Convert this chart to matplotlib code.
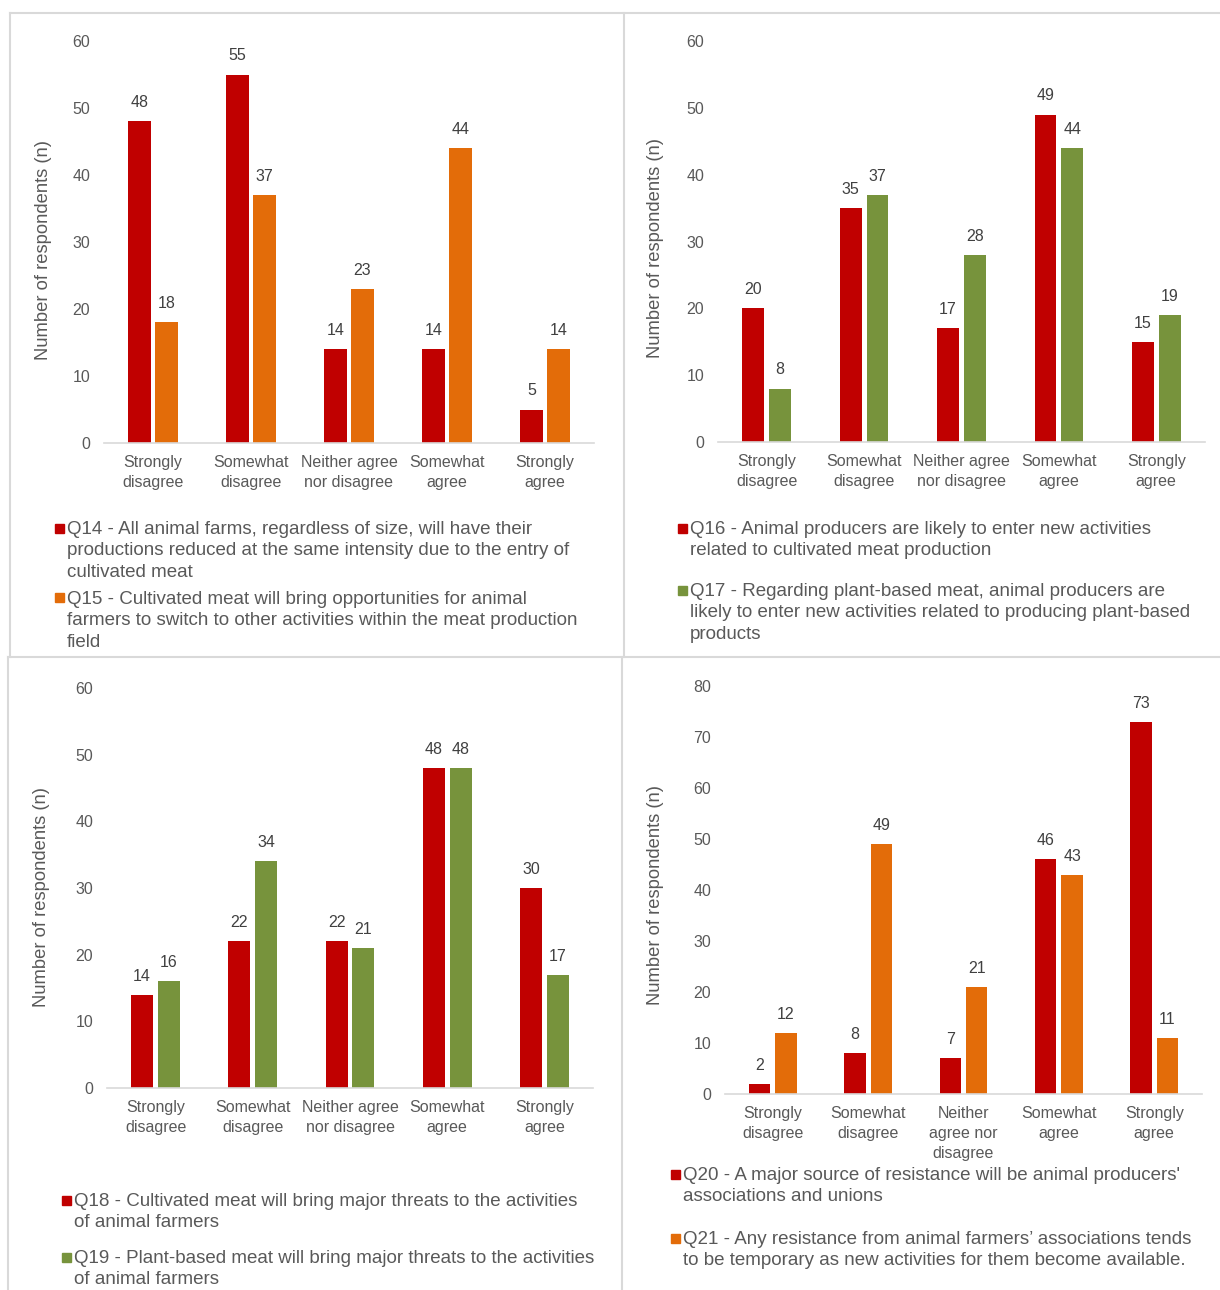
import matplotlib
matplotlib.use('Agg')
import matplotlib.pyplot as plt
from matplotlib.lines import Line2D
from matplotlib.patches import Rectangle
import numpy as np

plt.rcParams['font.family'] = ['Liberation Sans', 'DejaVu Sans']

# answer scale
cats = ['Strongly\ndisagree', 'Somewhat\ndisagree', 'Neither agree\nnor disagree',
        'Somewhat\nagree', 'Strongly\nagree']
cats_q20 = ['Strongly\ndisagree', 'Somewhat\ndisagree', 'Neither\nagree nor\ndisagree',
            'Somewhat\nagree', 'Strongly\nagree']

# number of respondents per question
q14 = [48, 55, 14, 14, 5]
q15 = [18, 37, 23, 44, 14]
q16 = [20, 35, 17, 49, 15]
q17 = [8, 37, 28, 44, 19]
q18 = [14, 22, 22, 48, 30]
q19 = [16, 34, 21, 48, 17]
q20 = [2, 8, 7, 46, 73]
q21 = [12, 49, 21, 43, 11]

lab14 = 'Q14 - All animal farms, regardless of size, will have their\nproductions reduced at the same intensity due to the entry of\ncultivated meat'
lab15 = 'Q15 - Cultivated meat will bring opportunities for animal\nfarmers to switch to other activities within the meat production\nfield'
lab16 = 'Q16 - Animal producers are likely to enter new activities\nrelated to cultivated meat production'
lab17 = 'Q17 - Regarding plant-based meat, animal producers are\nlikely to enter new activities related to producing plant-based\nproducts'
lab18 = 'Q18 - Cultivated meat will bring major threats to the activities\nof animal farmers'
lab19 = 'Q19 - Plant-based meat will bring major threats to the activities\nof animal farmers'
lab20 = "Q20 - A major source of resistance will be animal producers'\nassociations and unions"
lab21 = 'Q21 - Any resistance from animal farmers\u2019 associations tends\nto be temporary as new activities for them become available.'

RED = '#C00000'
ORANGE = '#E36C09'
GREEN = '#77933C'
GREY = '#595959'

W, H = 1220, 1290
fig = plt.figure(figsize=(W / 100, H / 100), dpi=100)


def fx(x):
    return x / W


def fy(y):
    return 1 - y / H


def panel(box, a, b, ca, cb, labels, ymax, ylab_xy):
    x0, y0, x1, y1 = box
    ax = fig.add_axes([fx(x0), fy(y1), (x1 - x0) / W, (y1 - y0) / H])
    x = np.arange(len(labels))
    w = 0.225
    off = 0.138
    ba = ax.bar(x - off, a, w, color=ca)
    bb = ax.bar(x + off, b, w, color=cb)
    for bars in (ba, bb):
        for r in bars:
            ax.annotate(f'{r.get_height():.0f}', (r.get_x() + r.get_width() / 2, r.get_height()),
                        xytext=(0, 8), textcoords='offset points', ha='center', va='bottom',
                        fontsize=11.5, color='#404040')
    ax.set_xlim(-0.5, len(labels) - 0.5)
    ax.set_ylim(0, ymax)
    ax.set_yticks(range(0, ymax + 1, 10))
    ax.set_xticks(x)
    ax.set_xticklabels(labels, linespacing=1.42)
    ax.tick_params(axis='both', length=0, labelsize=11.5, labelcolor=GREY)
    ax.tick_params(axis='x', pad=8.5)
    ax.tick_params(axis='y', pad=10)
    for s in ['top', 'right', 'left']:
        ax.spines[s].set_visible(False)
    ax.spines['bottom'].set_color('#D9D9D9')
    ax.spines['bottom'].set_linewidth(1.2)
    ax.set_facecolor('none')
    fig.text(fx(ylab_xy[0]), fy(ylab_xy[1]), 'Number of respondents (n)', rotation=90,
             ha='center', va='center', fontsize=13.2, color=GREY)
    return ax


def legend_entry(x, y, color, text):
    fig.patches.append(Rectangle((fx(x), fy(y + 4.5)), 9 / W, 9 / H, color=color,
                                 transform=fig.transFigure, figure=fig))
    for i, line in enumerate(text.split('\n')):
        fig.text(fx(x + 12), fy(y + 1.5 + i * 21.3), line, ha='left', va='center',
                 fontsize=13.5, color=GREY)


panel((104, 41, 594, 443), q14, q15, RED, ORANGE, cats, 60, (44, 250))
panel((718, 41, 1205, 442), q16, q17, RED, GREEN, cats, 60, (655, 248))
panel((107, 688, 593, 1088), q18, q19, RED, GREEN, cats, 60, (42, 897))
panel((725, 686, 1202, 1094), q20, q21, RED, ORANGE, cats_q20, 80, (655, 895))

legend_entry(55, 528, RED, lab14)
legend_entry(55, 598, ORANGE, lab15)
legend_entry(678, 528, RED, lab16)
legend_entry(678, 590, GREEN, lab17)
legend_entry(62, 1200, RED, lab18)
legend_entry(62, 1257, GREEN, lab19)
legend_entry(671, 1174, RED, lab20)
legend_entry(671, 1238, ORANGE, lab21)

# panel frames
frame = dict(color='#D9D9D9', linewidth=1.5, transform=fig.transFigure)
for (xa, ya, xb, yb) in [(10, 13, 1220, 13), (10, 13, 10, 657), (624, 13, 624, 657),
                         (8, 657, 1220, 657), (8, 657, 8, 1290), (622, 657, 622, 1290)]:
    fig.add_artist(Line2D([fx(xa), fx(xb)], [fy(ya), fy(yb)], **frame))

fig.savefig('out.png', dpi=100, facecolor='white')
